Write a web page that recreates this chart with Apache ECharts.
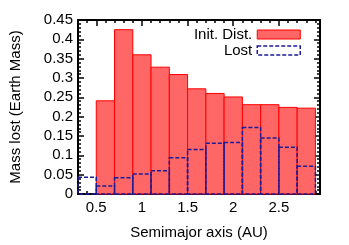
<!DOCTYPE html>
<html>
<head>
<meta charset="utf-8">
<script src="https://cdn.jsdelivr.net/npm/echarts@6/dist/echarts.min.js"></script>
<style>html,body{margin:0;padding:0;background:#fff}#c{width:349px;height:245px}</style>
</head>
<body>
<div id="c"></div>
<script>
var binStarts = [0.3, 0.5, 0.7, 0.9, 1.1, 1.3, 1.5, 1.7, 1.9, 2.1, 2.3, 2.5, 2.7];
var binWidth = 0.2;
var initDist = [0, 0.241, 0.425, 0.360, 0.328, 0.309, 0.272, 0.260, 0.251, 0.231, 0.231, 0.224, 0.222];
var lost = [0.043, 0.021, 0.042, 0.052, 0.060, 0.094, 0.115, 0.131, 0.133, 0.172, 0.145, 0.121, 0.072];
var xTickLabels = [0.5, 1, 1.5, 2, 2.5];

function toData(vals) {
  return binStarts.map(function (s, i) { return [s, +(s + binWidth).toFixed(2), vals[i]]; });
}
var FONT = 'Liberation Sans, Arial, Helvetica, sans-serif';
var RED_FILL = '#ff6666', RED_LINE = '#ff0000', BLUE = '#1c1c96';

function makeRender(kind) {
  return function (params, api) {
    var y = api.value(2);
    if (!y) return null;
    var p0 = api.coord([api.value(0), y]);
    var p1 = api.coord([api.value(1), 0]);
    var style = kind === 'red'
      ? { fill: RED_FILL, stroke: RED_LINE, lineWidth: 1 }
      : { fill: 'none', stroke: BLUE, lineWidth: 1.5, lineDash: [4, 2] };
    return { type: 'rect', shape: { x: p0[0], y: p0[1], width: p1[0] - p0[0], height: p1[1] - p0[1] }, style: style };
  };
}

var chart = echarts.init(document.getElementById('c'), null, { renderer: 'canvas' });
var lineStyle = { color: '#000', width: 2 };
var xBase = { type: 'value', min: 0.3, max: 2.95, splitLine: { show: false } };
chart.setOption({
  animation: false,
  textStyle: { fontFamily: FONT },
  grid: { left: 70, right: 29, top: 20, bottom: 38 },
  legend: {
    orient: 'vertical', right: 43, top: 22, align: 'right',
    itemWidth: 43, itemHeight: 9, itemGap: 1,
    textStyle: { fontSize: 15, color: '#000', fontFamily: FONT, lineHeight: 15 },
    data: [
      { name: 'Init. Dist.', icon: 'rect', itemStyle: { color: RED_FILL, borderColor: RED_LINE, borderWidth: 1 } },
      { name: 'Lost', icon: 'rect', itemStyle: { color: '#fff', borderColor: BLUE, borderWidth: 1.5, borderType: [4, 2] } }
    ]
  },
  xAxis: [
    Object.assign({}, xBase, {
      position: 'bottom', name: 'Semimajor axis (AU)', nameLocation: 'middle', nameGap: 31,
      nameTextStyle: { fontSize: 15, color: '#000', fontFamily: FONT },
      axisLine: { show: true, lineStyle: lineStyle },
      axisTick: { show: true, inside: true, length: 6, customValues: xTickLabels, lineStyle: { color: '#000', width: 1.5 } },
      axisLabel: { show: true, customValues: xTickLabels, fontSize: 15, color: '#000', margin: 6, fontFamily: FONT }
    }),
    Object.assign({}, xBase, {
      position: 'bottom', interval: 0.1,
      axisLine: { show: false }, axisLabel: { show: false },
      axisTick: { show: true, inside: true, length: 3, lineStyle: { color: '#000', width: 1.5 } }
    }),
    Object.assign({}, xBase, {
      position: 'top',
      axisLine: { show: true, lineStyle: lineStyle },
      axisTick: { show: true, inside: true, length: 6, customValues: xTickLabels, lineStyle: { color: '#000', width: 1.5 } },
      axisLabel: { show: false, customValues: xTickLabels }
    }),
    Object.assign({}, xBase, {
      position: 'top', interval: 0.1,
      axisLine: { show: false }, axisLabel: { show: false },
      axisTick: { show: true, inside: true, length: 3, lineStyle: { color: '#000', width: 1.5 } }
    })
  ],
  yAxis: [
    {
      type: 'value', position: 'left', min: 0, max: 0.45, interval: 0.05,
      name: 'Mass lost (Earth Mass)', nameLocation: 'middle', nameGap: 55,
      nameTextStyle: { fontSize: 15, color: '#000', fontFamily: FONT },
      splitLine: { show: false },
      axisLine: { show: true, lineStyle: lineStyle },
      axisTick: { show: true, inside: true, length: 6, lineStyle: { color: '#000', width: 1.5 } },
      minorTick: { show: true, splitNumber: 5, length: 3, lineStyle: { color: '#000', width: 1.5 } },
      axisLabel: { fontSize: 15, color: '#000', margin: 5, fontFamily: FONT }
    },
    {
      type: 'value', position: 'right', min: 0, max: 0.45, interval: 0.05,
      splitLine: { show: false },
      axisLine: { show: true, lineStyle: lineStyle },
      axisTick: { show: true, inside: true, length: 6, lineStyle: { color: '#000', width: 1.5 } },
      minorTick: { show: true, splitNumber: 5, length: 3, lineStyle: { color: '#000', width: 1.5 } },
      axisLabel: { show: false }
    }
  ],
  series: [
    {
      name: 'Init. Dist.', type: 'custom', xAxisIndex: 0, yAxisIndex: 0,
      itemStyle: { color: RED_FILL },
      renderItem: makeRender('red'), encode: { x: [0, 1], y: 2 }, data: toData(initDist)
    },
    {
      name: 'Lost', type: 'custom', xAxisIndex: 0, yAxisIndex: 0,
      itemStyle: { color: BLUE },
      renderItem: makeRender('blue'), encode: { x: [0, 1], y: 2 }, data: toData(lost)
    }
  ]
});
</script>
</body>
</html>
